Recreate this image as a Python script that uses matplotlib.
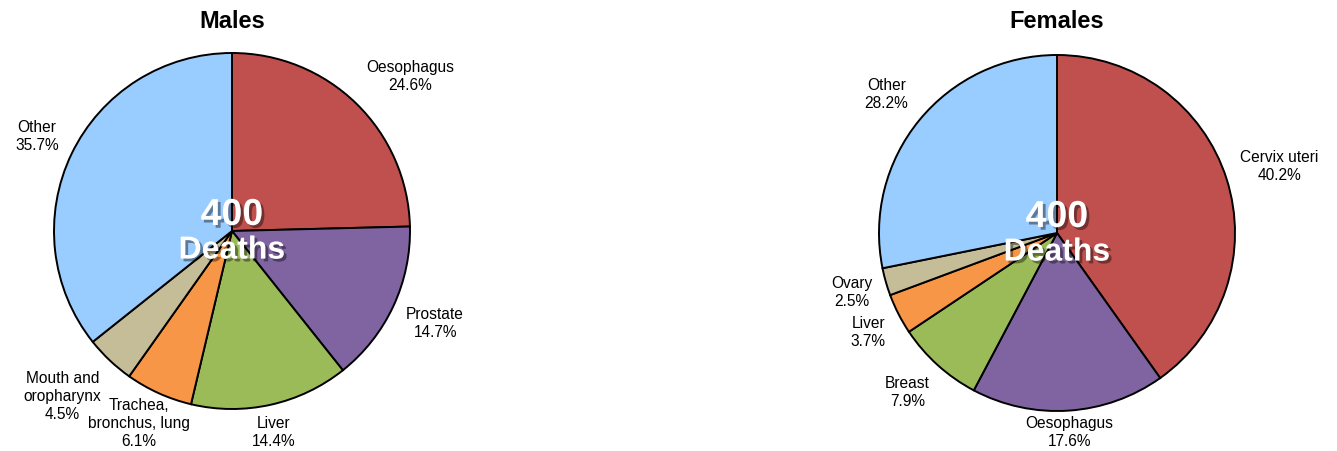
import matplotlib
matplotlib.use('Agg')
import matplotlib.pyplot as plt
import matplotlib.patheffects as pe
import numpy as np

plt.rcParams['font.family'] = ['Liberation Sans', 'DejaVu Sans']

# --- data ---
male_labels = ["Oesophagus", "Prostate", "Liver", "Trachea,\nbronchus, lung",
               "Mouth and\noropharynx", "Other"]
male_values = [24.6, 14.7, 14.4, 6.1, 4.5, 35.7]

female_labels = ["Cervix uteri", "Oesophagus", "Breast", "Liver", "Ovary", "Other"]
female_values = [40.2, 17.6, 7.9, 3.7, 2.5, 28.2]

deaths_total = 400
colors = ["#C0504D", "#8064A2", "#9BBB59", "#F79646", "#C4BD97", "#99CCFF"]

W, H = 1337, 451
fig = plt.figure(figsize=(W / 100, H / 100), dpi=100)
fig.patch.set_facecolor("white")

R = 178  # pie radius in pixels


def draw_pie(cx, cy, labels, values, title):
    ax = fig.add_axes([(cx - R) / W, 1 - (cy + R) / H, 2 * R / W, 2 * R / H])
    wedges, _ = ax.pie(values, colors=colors, startangle=90, counterclock=False,
                       radius=1, wedgeprops=dict(edgecolor="black", linewidth=1.4))
    ax.set_xlim(-1, 1)
    ax.set_ylim(-1, 1)
    ax.set_aspect("equal")
    ax.axis("off")

    # labels outside the slices, box pushed out along the slice direction
    renderer = fig.canvas.get_renderer()
    for w, lab, v in zip(wedges, labels, values):
        ang = np.deg2rad((w.theta1 + w.theta2) / 2)
        c, s = np.cos(ang), np.sin(ang)
        t = ax.text(0, 0, f"{lab}\n{v:.1f}%", ha="center", va="center",
                    fontsize=11.2, linespacing=1.25, clip_on=False)
        bb = t.get_window_extent(renderer)
        ax_x, ax_y = ax.transData.transform((1.08 * c, 1.08 * s))
        fx = np.sign(c) * np.clip((abs(c) - 0.3) * 2.5, 0, 1)
        fy = np.clip(1.6 * s, -1, 1)
        px = ax_x + bb.width / 2 * fx
        py = ax_y + bb.height / 2 * fy
        # keep inside the figure
        py = max(py, bb.height / 2 + 2)
        t.set_position(ax.transData.inverted().transform((px, py)))

    shadow = [pe.withSimplePatchShadow(offset=(2, -2), shadow_rgbFace="black", alpha=0.4)]
    ax.text(0, 0.09, str(deaths_total), ha="center", va="center", fontsize=27,
            fontweight="bold", color="white", path_effects=shadow)
    ax.text(0, -0.11, "Deaths", ha="center", va="center", fontsize=23,
            fontweight="bold", color="white", path_effects=shadow)

    fig.text(cx / W, 1 - 22 / H, title, ha="center", va="center",
             fontsize=17, fontweight="bold")


draw_pie(232, 231, male_labels, male_values, "Males")
draw_pie(1057, 233, female_labels, female_values, "Females")

fig.savefig("out.png", dpi=100)
